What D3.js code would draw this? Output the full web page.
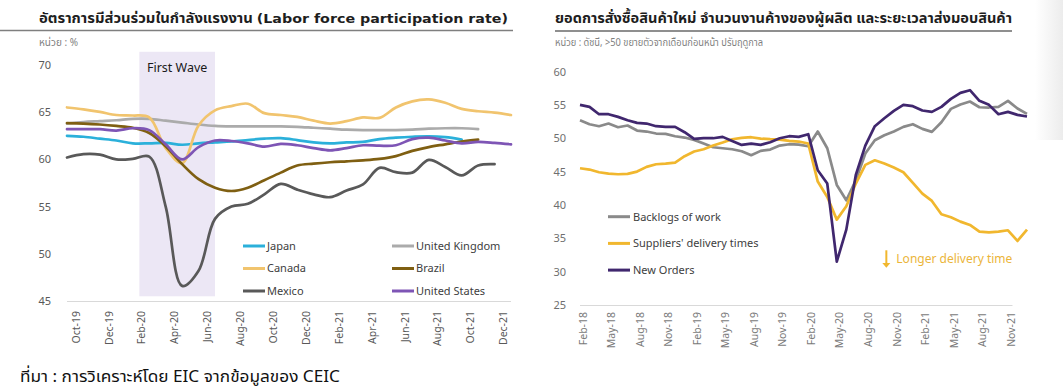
<!DOCTYPE html>
<html><head><meta charset="utf-8">
<script src="https://cdn.jsdelivr.net/npm/d3@7"></script>
<style>
html,body{margin:0;padding:0;background:#fff;}
svg{display:block;}
text{font-family:"Noto Sans Thai","Noto Sans Thai UI","Loma","Garuda","Tlwg Typo","Noto Sans","DejaVu Sans",sans-serif;}
.lat{font-family:"DejaVu Sans","Noto Sans Thai",sans-serif;}
</style></head><body>
<svg id="c" width="1063" height="391"></svg>
<script>
// ---------- LEFT CHART DATA ----------
const lfMonths = ["Sep-19","Oct-19","Nov-19","Dec-19","Jan-20","Feb-20","Mar-20","Apr-20","May-20","Jun-20","Jul-20","Aug-20","Sep-20","Oct-20","Nov-20","Dec-20","Jan-21","Feb-21","Mar-21","Apr-21","May-21","Jun-21","Jul-21","Aug-21","Sep-21","Oct-21","Nov-21","Dec-21"];
const lfTicks = ["Oct-19","Dec-19","Feb-20","Apr-20","Jun-20","Aug-20","Oct-20","Dec-20","Feb-21","Apr-21","Jun-21","Aug-21","Oct-21","Dec-21"];
const lfYTicks = [45,50,55,60,65,70];
const japan  = [62.5,62.4,62.2,62.0,61.7,61.7,61.75,61.55,61.7,61.8,61.9,62.05,62.2,62.25,62.05,61.8,61.7,61.8,61.85,62.15,62.3,62.4,62.45,62.35,62.1];
const uk     = [63.8,63.95,64.05,64.15,64.3,64.3,64.1,63.9,63.7,63.55,63.5,63.5,63.5,63.5,63.45,63.35,63.25,63.15,63.1,63.1,63.1,63.15,63.25,63.3,63.3,63.2];
const canada = [65.5,65.3,65.03,64.7,64.65,64.45,61.2,59.6,63.6,65.2,65.65,65.9,64.9,64.7,64.5,64.1,63.8,64.05,64.45,64.4,65.5,66.15,66.35,66.0,65.35,65.1,64.95,64.7];
const brazil = [63.85,63.8,63.7,63.55,63.35,62.8,61.4,59.5,57.9,57.0,56.65,57.0,57.8,58.6,59.35,59.55,59.7,59.8,59.9,60.05,60.35,60.9,61.3,61.6,61.9,62.1];
const mexico = [60.2,60.55,60.5,60.0,60.05,60.3,55.0,46.6,48.2,53.7,55.0,55.3,56.3,57.4,56.8,56.3,56.0,56.7,57.35,59.1,58.65,58.6,59.95,59.2,58.3,59.36,59.5];
const us     = [63.2,63.2,63.2,63.05,63.3,63.1,61.6,60.0,61.3,62.0,61.95,61.7,61.35,61.65,61.5,61.2,60.96,61.2,61.5,61.45,61.5,62.15,62.3,62.0,61.7,61.85,61.75,61.6];
const lfSeriesNames = ["Japan","United Kingdom","Canada","Brazil","Mexico","United States"];
const lfSeriesValues = [japan, uk, canada, brazil, mexico, us];
const lfColors = ["#2BB0DA","#ABABAB","#F1C46E","#7F5F12","#595959","#7E55B5"];
const firstWave = {from:"Jan-20", to:"Jun-20", label:"First Wave"};

// ---------- RIGHT CHART DATA ----------
const rMonths = ["Jan-18","Feb-18","Mar-18","Apr-18","May-18","Jun-18","Jul-18","Aug-18","Sep-18","Oct-18","Nov-18","Dec-18","Jan-19","Feb-19","Mar-19","Apr-19","May-19","Jun-19","Jul-19","Aug-19","Sep-19","Oct-19","Nov-19","Dec-19","Jan-20","Feb-20","Mar-20","Apr-20","May-20","Jun-20","Jul-20","Aug-20","Sep-20","Oct-20","Nov-20","Dec-20","Jan-21","Feb-21","Mar-21","Apr-21","May-21","Jun-21","Jul-21","Aug-21","Sep-21","Oct-21","Nov-21","Dec-21"];
const rTicks = ["Feb-18","May-18","Aug-18","Nov-18","Feb-19","May-19","Aug-19","Nov-19","Feb-20","May-20","Aug-20","Nov-20","Feb-21","May-21","Aug-21","Nov-21"];
const rYTicks = [25,30,35,40,45,50,55,60];
const backlogs  = [52.7,52.1,51.8,52.2,51.65,51.9,51.15,51.0,50.7,50.65,50.3,50.1,49.75,49.2,48.65,48.5,48.35,48.05,47.45,48.1,48.3,48.9,49.1,49.05,48.8,51.0,48.5,43.0,40.7,43.7,47.7,49.7,50.45,51.0,51.7,52.1,51.4,50.95,52.4,54.4,55.05,55.5,54.64,54.6,54.7,55.6,54.45,53.65];
const suppliers = [45.5,45.3,44.9,44.7,44.6,44.65,45.0,45.7,46.1,46.2,46.35,47.3,48.0,48.35,48.9,49.35,49.85,50.05,50.15,49.95,49.85,49.8,49.6,49.5,49.2,43.5,41.2,37.8,39.8,43.2,46.0,46.7,46.2,45.6,44.9,43.3,41.7,40.6,38.6,38.15,37.5,37.0,36.0,35.9,36.0,36.2,34.6,36.3];
const newOrders = [55.0,54.7,53.6,53.6,53.2,52.7,52.3,52.2,51.8,51.7,51.7,50.9,49.9,50.0,50.0,50.2,49.6,49.0,49.2,49.0,49.4,50.0,50.3,50.2,50.6,45.2,43.2,31.5,36.3,44.5,48.9,51.8,53.0,54.1,55.0,54.8,54.15,53.95,54.7,55.9,56.8,57.2,55.6,55.0,53.6,53.95,53.5,53.25];
const rSeriesNames = ["Backlogs of work","Suppliers' delivery times","New Orders"];
const rSeriesValues = [backlogs, suppliers, newOrders];
const rColors = ["#8A8A8A","#F1B72E","#40276E"];
const rNote = "Longer delivery time";

// ---------- TEXTS ----------
const leftTitleTh = "อัตราการมีส่วนร่วมในกำลังแรงงาน ";
const leftTitleEn = "(Labor force participation rate)";
const leftUnit = "หน่วย : %";
const rightTitle = "ยอดการสั่งซื้อสินค้าใหม่ จำนวนงานค้างของผู้ผลิต และระยะเวลาส่งมอบสินค้า";
const rightUnit = "หน่วย : ดัชนี, >50 ขยายตัวจากเดือนก่อนหน้า ปรับฤดูกาล";
const sourceText = "ที่มา : การวิเคราะห์โดย EIC จากข้อมูลของ CEIC";

const svg = d3.select("#c");
const defs = svg.append("defs");
const gr = defs.append("linearGradient").attr("id","edge").attr("x1",0).attr("x2",1).attr("y1",0).attr("y2",0);
gr.append("stop").attr("offset",0).attr("stop-color","#ffffff");
gr.append("stop").attr("offset",1).attr("stop-color","#ececec");
svg.append("rect").attr("x",1035).attr("y",0).attr("width",28).attr("height",140).attr("fill","url(#edge)");

// titles
const lt = svg.append("text").attr("x",39).attr("y",23).attr("font-size",14).attr("font-weight","bold").attr("fill","#1e1e1e");
lt.append("tspan").attr("font-size",13.5).text(leftTitleTh);
lt.append("tspan").attr("class","lat").attr("font-size",13).text(leftTitleEn);
lt.attr("textLength",469).attr("lengthAdjust","spacingAndGlyphs");
svg.append("line").attr("x1",0).attr("x2",513).attr("y1",30.5).attr("y2",30.5).attr("stroke","#7f7f7f").attr("stroke-width",1.5);
svg.append("text").attr("x",39).attr("y",46).attr("font-size",10).attr("fill","#7f7f7f").text(leftUnit);

svg.append("text").attr("x",555).attr("y",23).attr("font-size",14.5).attr("font-weight","bold").attr("fill","#1e1e1e")
  .attr("textLength",457).attr("lengthAdjust","spacingAndGlyphs").text(rightTitle);
svg.append("line").attr("x1",555).attr("x2",1012).attr("y1",31).attr("y2",31).attr("stroke","#8f8f8f").attr("stroke-width",2);
svg.append("text").attr("x",555).attr("y",46).attr("font-size",10).attr("fill","#7f7f7f")
  .attr("textLength",208).attr("lengthAdjust","spacingAndGlyphs").text(rightUnit);

svg.append("text").attr("x",20).attr("y",382).attr("font-size",16.5).attr("fill","#111")
  .attr("textLength",320).attr("lengthAdjust","spacingAndGlyphs").text(sourceText);

// ---------- LEFT CHART ----------
const xL = d3.scalePoint().domain(lfMonths).range([67,511]);
const yL = d3.scaleLinear().domain([45,70]).range([301,65]);

const fx1 = xL(firstWave.from) + 0.4*xL.step(), fx2 = xL(firstWave.to);
svg.append("rect").attr("x",fx1).attr("width",fx2-fx1).attr("y",yL(71.4)).attr("height",yL(45.5)-yL(71.4)).attr("fill","#ECE7F5");
svg.append("text").attr("x",(fx1+fx2)/2).attr("y",72).attr("text-anchor","middle").attr("font-size",12.5).attr("fill","#1a1a1a").text(firstWave.label);

svg.append("line").attr("x1",xL(lfMonths[0])).attr("x2",xL(lfMonths[lfMonths.length-1])).attr("y1",yL(45)+0.5).attr("y2",yL(45)+0.5).attr("stroke","#D9D9D9").attr("stroke-width",1);

const yAxL = svg.append("g").attr("transform","translate(54,0)")
  .call(d3.axisLeft(yL).tickValues(lfYTicks).tickSize(0).tickPadding(3));
yAxL.select(".domain").remove();
yAxL.selectAll("text").attr("font-size",11).attr("fill","#595959").attr("font-family",null);

const xAxL = svg.append("g").attr("transform",`translate(0,${yL(45)})`)
  .call(d3.axisBottom(xL).tickValues(lfTicks).tickSize(0));
xAxL.select(".domain").remove();
xAxL.selectAll("text").attr("font-size",10.5).attr("fill","#595959").attr("font-family",null)
  .attr("transform","rotate(-90)").attr("text-anchor","end").attr("x",-10).attr("y",-8).attr("dy","0.35em");

const lineL = d3.line().x((d,i)=>xL(lfMonths[i])).y(d=>yL(d)).curve(d3.curveCatmullRom.alpha(0.5));
lfSeriesValues.forEach((vals,k)=>{
  svg.append("path").attr("d",lineL(vals)).attr("fill","none").attr("stroke",lfColors[k]).attr("stroke-width",2.7).attr("stroke-linejoin","round").attr("stroke-linecap","round");
});

// left legend
lfSeriesNames.forEach((name,k)=>{
  const col = k%2, row = Math.floor(k/2);
  const lx = 243 + col*149, ly = 246 + row*22.5;
  svg.append("line").attr("x1",lx).attr("x2",lx+22).attr("y1",ly).attr("y2",ly).attr("stroke",lfColors[k]).attr("stroke-width",3);
  svg.append("text").attr("x",lx+24).attr("y",ly).attr("dy","0.35em").attr("font-size",11).attr("fill","#404040").text(name);
});

// ---------- RIGHT CHART ----------
const xR = d3.scalePoint().domain(rMonths).range([580,1027]);
const yR = d3.scaleLinear().domain([25,60]).range([305,71.5]);

svg.append("line").attr("x1",xR(rMonths[0])).attr("x2",xR(rTicks[rTicks.length-1])-5).attr("y1",yR(25)+0.5).attr("y2",yR(25)+0.5).attr("stroke","#D9D9D9").attr("stroke-width",1);

const yAxR = svg.append("g").attr("transform","translate(569,0)")
  .call(d3.axisLeft(yR).tickValues(rYTicks).tickSize(0).tickPadding(3));
yAxR.select(".domain").remove();
yAxR.selectAll("text").attr("font-size",11).attr("fill","#6f6f6f").attr("font-family",null);

const xAxR = svg.append("g").attr("transform",`translate(0,${yR(25)})`)
  .call(d3.axisBottom(xR).tickValues(rTicks).tickSize(0));
xAxR.select(".domain").remove();
xAxR.selectAll("text").attr("font-size",10.5).attr("fill","#7a7a7a").attr("font-family",null)
  .attr("transform","rotate(-90)").attr("text-anchor","end").attr("x",-7).attr("y",-7).attr("dy","0.35em");

const lineR = d3.line().x((d,i)=>xR(rMonths[i])).y(d=>yR(d));
rSeriesValues.forEach((vals,k)=>{
  svg.append("path").attr("d",lineR(vals)).attr("fill","none").attr("stroke",rColors[k]).attr("stroke-width",2.7).attr("stroke-linejoin","round");
});

rSeriesNames.forEach((name,k)=>{
  const lx = 608, ly = 216.7 + k*26.7;
  svg.append("line").attr("x1",lx).attr("x2",lx+22).attr("y1",ly).attr("y2",ly).attr("stroke",rColors[k]).attr("stroke-width",3);
  svg.append("text").attr("x",lx+25).attr("y",ly).attr("dy","0.35em").attr("font-size",11).attr("fill","#404040").text(name);
});

// annotation arrow + note
const ax = xR("Sep-20")+2;
svg.append("line").attr("x1",ax).attr("x2",ax).attr("y1",yR(33.2)).attr("y2",yR(31.2)).attr("stroke",rColors[1]).attr("stroke-width",2);
svg.append("path").attr("d",`M${ax-4},${yR(31.3)} L${ax+4},${yR(31.3)} L${ax},${yR(30.6)} Z`).attr("fill",rColors[1]);
svg.append("text").attr("x",ax+10).attr("y",yR(32)).attr("dy","0.35em").attr("font-size",12).attr("fill","#EBB53A").text(rNote);
</script>
</body></html>
